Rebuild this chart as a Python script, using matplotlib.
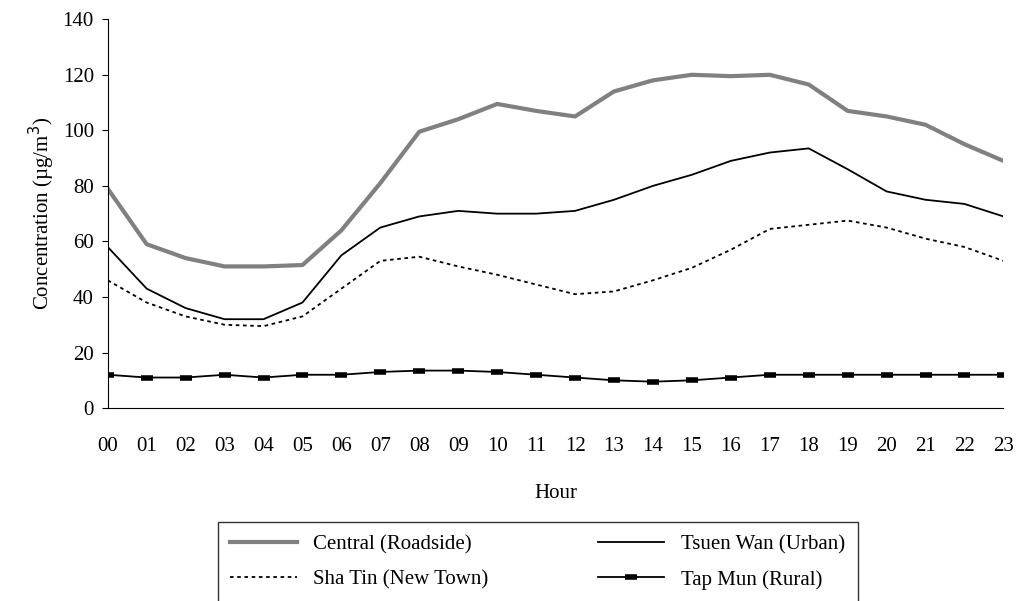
import matplotlib.pyplot as plt

plt.rcParams['font.family'] = ['Liberation Serif', 'DejaVu Serif']

hours = ['%02d' % h for h in range(24)]
central = [79, 59, 54, 51, 51, 51.5, 64, 81, 99.5, 104, 109.5, 107, 105, 114, 118, 120,
           119.5, 120, 116.5, 107, 105, 102, 95, 89]
tsuen_wan = [58, 43, 36, 32, 32, 38, 55, 65, 69, 71, 70, 70, 71, 75, 80, 84,
             89, 92, 93.5, 86, 78, 75, 73.5, 69]
sha_tin = [46, 38, 33, 30, 29.5, 33, 43, 53, 54.5, 51, 48, 44.5, 41, 42, 46, 50.5,
           57, 64.5, 66, 67.5, 65, 61, 58, 53]
tap_mun = [12, 11, 11, 12, 11, 12, 12, 13, 13.5, 13.5, 13, 12, 11, 10, 9.5, 10,
           11, 12, 12, 12, 12, 12, 12, 12]

fig = plt.figure(figsize=(10.26, 6.01), dpi=100)
ax = fig.add_axes([0.105, 0.321, 0.873, 0.647])
x = list(range(24))
l1, = ax.plot(x, central, color='#808080', lw=3, label='Central (Roadside)')
l2, = ax.plot(x, tsuen_wan, color='black', lw=1.3, label='Tsuen Wan (Urban)')
l3, = ax.plot(x, sha_tin, color='black', lw=1.3, ls=(0, (2, 2)), label='Sha Tin (New Town)')
l4, = ax.plot(x, tap_mun, color='black', lw=1.3, marker='_', markersize=9,
              markeredgewidth=4, label='Tap Mun (Rural)')

ax.set_xlim(0, 23)
ax.set_ylim(0, 140)
ax.set_yticks(range(0, 141, 20))
ax.set_xticks(x)
ax.set_xticklabels(hours)
ax.tick_params(labelsize=15, direction='in', length=0, pad=21)
ax.tick_params(axis='y', direction='out', length=4, pad=6)
for s in ['top', 'right']:
    ax.spines[s].set_visible(False)
ax.set_xlabel('Hour', fontsize=15, labelpad=20)
ax.set_ylabel('Concentration (\u00b5g/m$^3$)', fontsize=15)

# column-major fill: order so rows read Central|Tsuen Wan, Sha Tin|Tap Mun
leg = fig.legend([l1, l3, l2, l4], [l.get_label() for l in (l1, l3, l2, l4)],
                 loc='upper left', bbox_to_anchor=(0.212, -0.02, 0.624, 0.151),
                 ncol=2, fontsize=15, frameon=True, fancybox=False, edgecolor='black',
                 handlelength=3.2, columnspacing=1.0, mode='expand', borderaxespad=0,
                 labelspacing=0.75, borderpad=0.6)
leg.get_frame().set_linewidth(1)

fig.savefig('out.png', dpi=100)
